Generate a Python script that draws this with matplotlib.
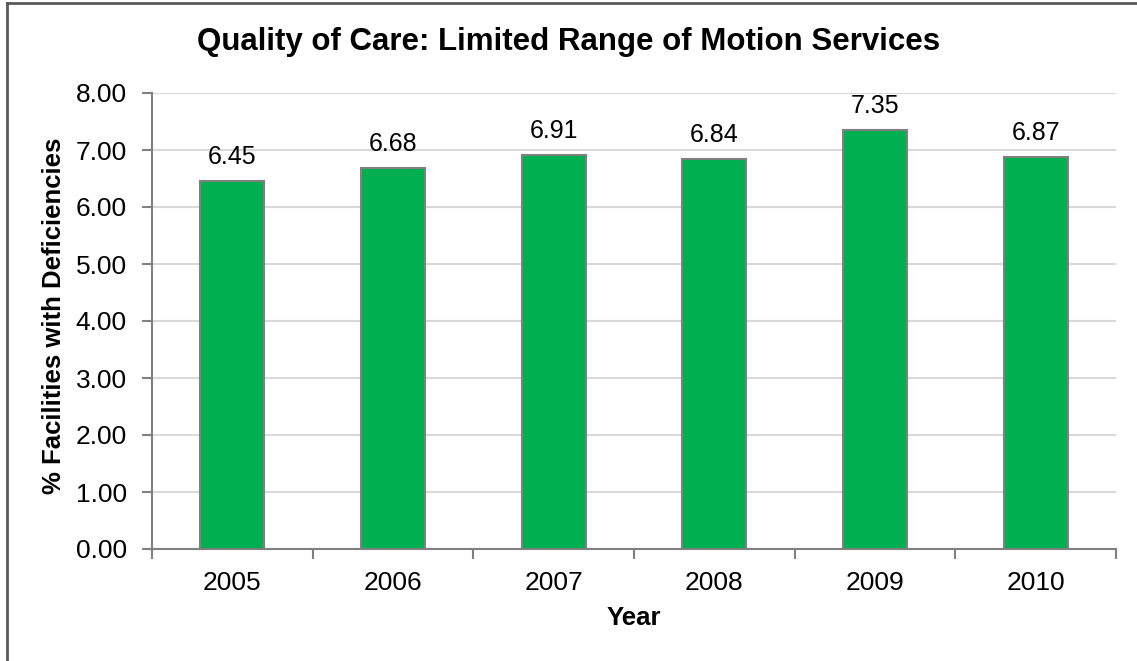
import matplotlib
matplotlib.use("Agg")
import matplotlib.pyplot as plt
from matplotlib.lines import Line2D
import numpy as np

years = ["2005", "2006", "2007", "2008", "2009", "2010"]
values = [6.45, 6.68, 6.91, 6.84, 7.35, 6.87]
yticks = [0, 1, 2, 3, 4, 5, 6, 7, 8]
title = "Quality of Care: Limited Range of Motion Services"
xlabel = "Year"
ylabel = "% Facilities with Deficiencies"

plt.rcParams['font.family'] = ['Liberation Sans', 'DejaVu Sans']

W, H = 1137, 661
fig = plt.figure(figsize=(W / 100, H / 100), dpi=100)
ax = fig.add_axes([152 / W, 1 - 549 / H, (1116 - 152) / W, (549 - 93) / H])

x = np.arange(len(years))
ax.bar(x, values, width=0.4, color="#00B050", edgecolor="#808080", linewidth=1.5, zorder=3)

for xi, v in zip(x, values):
    ax.annotate(f"{v:.2f}", (xi, v), xytext=(0, 12.5), textcoords="offset points",
                ha="center", va="baseline", fontsize=18, color="black")

ax.set_xlim(-0.5, len(years) - 0.5)
ax.set_ylim(0, 8)
ax.set_yticks(yticks)
ax.set_yticklabels([f"{t:.2f}" for t in yticks], fontsize=19)
ax.yaxis.grid(True, color="#D9D9D9", linewidth=1.5, zorder=0)
ax.set_axisbelow(True)

ax.set_xticks(x)
ax.set_xticklabels(years, fontsize=19)
ax.set_xticks(np.arange(-0.5, len(years)), minor=True)
ax.tick_params(axis="x", which="major", length=0, pad=16)
ax.tick_params(axis="x", which="minor", length=7, width=1.5, color="#808080", direction="out")
ax.tick_params(axis="y", length=7, width=1.5, color="#808080", direction="out", pad=11)

for s in ["top", "right"]:
    ax.spines[s].set_visible(False)
for s in ["left", "bottom"]:
    ax.spines[s].set_color("#808080")
    ax.spines[s].set_linewidth(1.5)

fig.text(634 / W, 1 - 618 / H, xlabel, ha="center", va="center", fontsize=18.5, fontweight="bold")
fig.text(54 / W, 1 - 316 / H, ylabel, ha="center", va="center", rotation=90, fontsize=18.5, fontweight="bold")
fig.text(0.5, 1 - 42 / H, title, ha="center", va="center", fontsize=22.5, fontweight="bold")

fig.add_artist(Line2D([7 / W, 7 / W], [0, 1 - 3 / H], transform=fig.transFigure, color="#595959", linewidth=2))
fig.add_artist(Line2D([7 / W, 1], [1 - 3 / H, 1 - 3 / H], transform=fig.transFigure, color="#595959", linewidth=2))

fig.savefig("out.png", dpi=100)
